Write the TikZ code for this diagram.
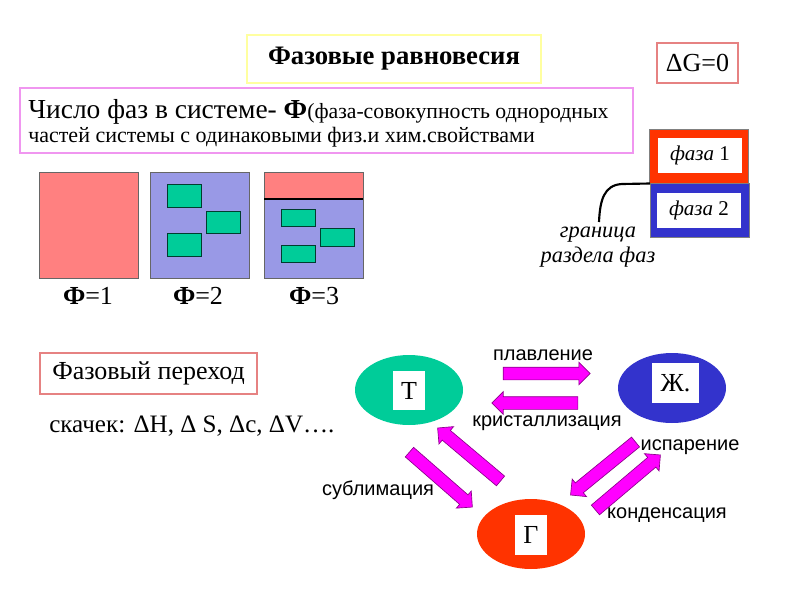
\documentclass[tikz,border=0pt]{standalone}
\usepackage{fontspec}
\setmainfont{Liberation Serif}
\newfontfamily\sansf{Liberation Sans}
\usetikzlibrary{shapes.geometric,shapes.arrows,calc}
\definecolor{salmon}{RGB}{255,128,128}
\definecolor{lav}{RGB}{153,153,230}
\definecolor{grn}{RGB}{0,204,153}
\definecolor{blu}{RGB}{51,51,204}
\definecolor{rd}{RGB}{255,51,0}
\definecolor{mag}{RGB}{255,0,255}
\definecolor{magd}{RGB}{140,0,140}
\definecolor{ylw}{RGB}{255,255,160}
\definecolor{pnk}{RGB}{240,150,240}
\definecolor{rose}{RGB}{230,130,130}
\tikzset{
  frame/.style={draw=#1, line width=0.9pt, inner sep=0pt},
  phasebox/.style={draw=black!60, line width=0.6pt},
  chip/.style={fill=grn, draw=black!70!grn, line width=0.6pt},
  big/.style={font=\fontsize{19.5}{23}\selectfont},
  lbl/.style={font=\sansf\fontsize{15}{18}\selectfont, inner sep=0pt},
  state/.style={ellipse, draw=none, fill=#1, minimum width=81pt, minimum height=52.5pt},
  letter/.style={fill=white, inner sep=0pt, font=\fontsize{19.5}{23}\selectfont},
  blockarrow/.style={single arrow, draw=magd, fill=mag, line width=0.5pt,
    inner xsep=0pt, inner ysep=4.5pt, text height=0pt, text depth=0pt,
    single arrow head extend=3.75pt, single arrow head indent=0pt},
}
\newcommand{\blockarr}[3]{%
  \path let \p1=($(#3)-(#2)$), \n1={atan2(\y1,\x1)}, \n2={veclen(\x1,\y1)} in
    node[blockarrow, rotate=\n1, minimum height=\n2] (#1) at ($(#2)!0.5!(#3)$) {};}
\begin{document}
\begin{tikzpicture}[x=0.75pt,y=-0.75pt]
\useasboundingbox (0,0) rectangle (800,600);
% title
\node[frame=ylw, minimum width=220.5pt, minimum height=36pt,
  font=\bfseries\fontsize{20}{24}\selectfont] (title) at (394,59) {Фазовые равновесия};
% definition box
\draw[draw=pnk, line width=0.9pt] (20,88) rectangle (633,153);
\node[anchor=base west, inner sep=0pt] (line1) at (28,118)
  {\fontsize{20.6}{24}\selectfont Число фаз в системе- \textbf{Ф}\fontsize{16.3}{19}\selectfont(фаза-совокупность однородных};
\node[anchor=base west, inner sep=0pt, font=\fontsize{16.5}{19}\selectfont] (line2) at (28,142)
  {частей системы с одинаковыми физ.и хим.свойствами};
% Delta G
\node[frame=rose, minimum width=60.75pt, minimum height=30pt, big] (dg) at (697.5,63) {ΔG=0};
% phase pictures
\draw[phasebox, fill=salmon] (39,172) rectangle (138,278);
\draw[phasebox, fill=lav] (150,172) rectangle (249,278);
\draw[chip] (167,184) rectangle (201,207);
\draw[chip] (206,211) rectangle (240,233);
\draw[chip] (167,233) rectangle (201,256);
\draw[phasebox, fill=lav] (264,172) rectangle (363,278);
\draw[phasebox, fill=salmon] (264,172) rectangle (363,199);
\draw[black, line width=0.8pt] (264,199) -- (363,199);
\draw[chip] (281,209) rectangle (315,226);
\draw[chip] (320,228) rectangle (354,246);
\draw[chip] (281,245) rectangle (315,262);
\node[big] (f1) at (88,296) {\textbf{Ф}=1};
\node[big] (f2) at (198,296) {\textbf{Ф}=2};
\node[big] (f3) at (314,296) {\textbf{Ф}=3};
% phase 1 / phase 2
\node[fill=rd, draw=black!50, line width=0.4pt, minimum width=74.25pt, minimum height=40.5pt, inner sep=0pt] (ph1) at (698.5,156) {};
\node[fill=white, minimum width=63pt, minimum height=26.25pt, inner sep=0pt, font=\fontsize{15.75}{19}\selectfont] (ph1t) at (700,155.5) {\textit{фаза} 1};
\node[fill=blu, draw=black!50, line width=0.4pt, minimum width=74.25pt, minimum height=40.5pt, inner sep=0pt] (ph2) at (699.5,210) {};
\node[fill=white, minimum width=63pt, minimum height=26.25pt, inner sep=0pt, font=\fontsize{15.75}{19}\selectfont] (ph2t) at (699,210.5) {\textit{фаза} 2};
\coordinate (bnd) at (650,183.5);
\draw[line width=1.6pt] (bnd) -- (622,184) .. controls (604,185) and (600,200) .. (599,222);
\node[align=center, inner sep=0pt, font=\itshape\fontsize{16.8}{18.75}\selectfont] (gr) at (598,247) {граница\\раздела фаз};
% phase transition
\node[frame=rose, minimum width=162.75pt, minimum height=30.75pt, big] (pt) at (148.5,373.5) {Фазовый переход};
\node[anchor=base west, inner sep=0pt, font=\fontsize{18.8}{22}\selectfont] (jump) at (49,432) {скачек: ΔH, Δ S, Δc, ΔV….};
% states
\node[state=grn] (T) at (409,390) {};
\node[letter, minimum width=24pt, minimum height=29.25pt] (Tl) at (409,390.5) {Т};
\node[state=blu] (L) at (672,388) {};
\node[letter, minimum width=35.25pt, minimum height=30pt] (Ll) at (675.5,383) {Ж.};
\node[state=rd] (G) at (531,534) {};
\node[letter, minimum width=24pt, minimum height=30pt] (Gl) at (531,535) {Г};
% arrow end points
\coordinate (plA) at (500,373.5); \coordinate (plB) at (587,373.5);
\coordinate (krA) at (581,403);   \coordinate (krB) at (495,403);
\coordinate (suA) at (407,450);   \coordinate (suB) at (470,505);
\coordinate (deA) at (503,483);   \coordinate (deB) at (440,430);
\coordinate (evA) at (638,440);   \coordinate (evB) at (573,493);
\coordinate (coA) at (593,512);   \coordinate (coB) at (658,457);
\blockarr{aPl}{plA}{plB}
\blockarr{aKr}{krA}{krB}
\blockarr{aSu}{suA}{suB}
\blockarr{aDe}{deA}{deB}
\blockarr{aEv}{evA}{evB}
\blockarr{aCo}{coA}{coB}
% labels
\node[lbl] (lpl) at (543,355) {плавление};
\node[lbl] (lkr) at (547,423) {кристаллизация};
\node[lbl] (lsu) at (378,490) {сублимация};
\node[lbl] (lev) at (690,447) {испарение};
\node[lbl] (lco) at (667,515) {конденсация};
\end{tikzpicture}
\end{document}
